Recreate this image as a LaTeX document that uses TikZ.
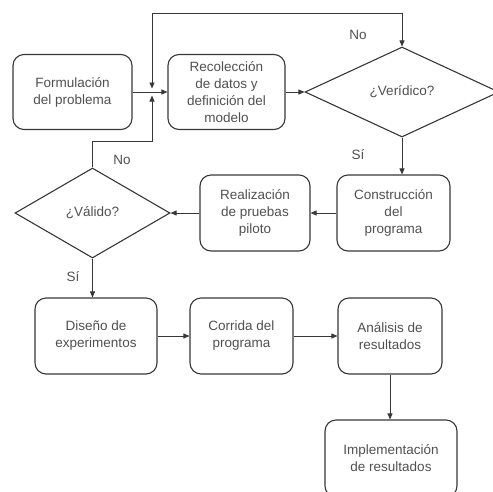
\documentclass[tikz,border=0pt]{standalone}
\usepackage{fontspec}
\setmainfont{Liberation Sans}
\usetikzlibrary{arrows.meta,shapes.geometric}
\definecolor{linecol}{RGB}{55,55,55}
\definecolor{textcol}{RGB}{80,80,80}

\begin{document}
\begin{tikzpicture}[x=1pt,y=-1pt,>={Triangle[length=6pt,width=5pt]},
  box/.style={draw=linecol,line width=1.1pt,rounded corners=11pt,text=textcol,
    align=center,inner sep=2pt,font=\fontsize{13.5}{17}\selectfont},
  cond/.style={draw=linecol,line width=1.1pt,diamond,text=textcol,inner sep=0pt,
    font=\fontsize{13.5}{17}\selectfont},
  flow/.style={draw=linecol,line width=0.8pt,->},
  lab/.style={text=textcol,font=\fontsize{13.5}{16}\selectfont}]
  \clip (0,0) rectangle (493,491);
  % first row
  \node[box,minimum width=119pt,minimum height=75pt] (form) at (72.5,92) {Formulación\\del problema};
  \node[box,minimum width=117pt,minimum height=75pt] (rec) at (226.5,92) {Recolección\\de datos y\\definición del\\modelo};
  \node[cond,minimum width=194pt,minimum height=90pt] (ver) at (402,92) {¿Verídico?};
  % second row
  \node[box,minimum width=113pt,minimum height=76pt] (cons) at (393.5,213) {Construcción\\del\\programa};
  \node[box,minimum width=110pt,minimum height=76pt] (rea) at (255,213) {Realización\\de pruebas\\piloto};
  \node[cond,minimum width=155pt,minimum height=90pt] (val) at (92.5,213) {¿Válido?};
  % third row
  \node[box,minimum width=122pt,minimum height=76pt] (dis) at (96,336) {Diseño de\\experimentos};
  \node[box,minimum width=103pt,minimum height=76pt] (cor) at (241.5,336) {Corrida del\\programa};
  \node[box,minimum width=104pt,minimum height=76pt] (ana) at (390,336) {Análisis de\\resultados};
  \node[box,minimum width=132pt,minimum height=77pt] (imp) at (391,458.5) {Implementación\\de resultados};
  % where the two loops come back in
  \coordinate (jtop) at (152,88.5);
  \coordinate (jbot) at (152,95.5);
  \coordinate (bend) at (152,141);
  % main flow
  \draw[flow] (form) -- (rec);
  \draw[flow] (rec) -- (ver);
  \draw[flow] (ver.south) -- (ver.south |- cons.north);
  \draw[flow] (cons) -- (rea);
  \draw[flow] (rea) -- (val);
  \draw[flow] (val.south) -- (val.south |- dis.north);
  \draw[flow] (dis) -- (cor);
  \draw[flow] (cor) -- (ana);
  \draw[flow] (ana.south) -- (ana.south |- imp.north);
  % loops
  \draw[flow,<->] (jtop) |- ([yshift=33pt]ver.north) -- (ver.north);
  \draw[flow] (val.north) |- (bend) -- (jbot);
  % answers
  \node[lab] (no1) at (358,35) {No};
  \node[lab] (si1) at (358,155) {Sí};
  \node[lab] (no2) at (122,160) {No};
  \node[lab] (si2) at (73,277) {Sí};
\end{tikzpicture}
\end{document}
